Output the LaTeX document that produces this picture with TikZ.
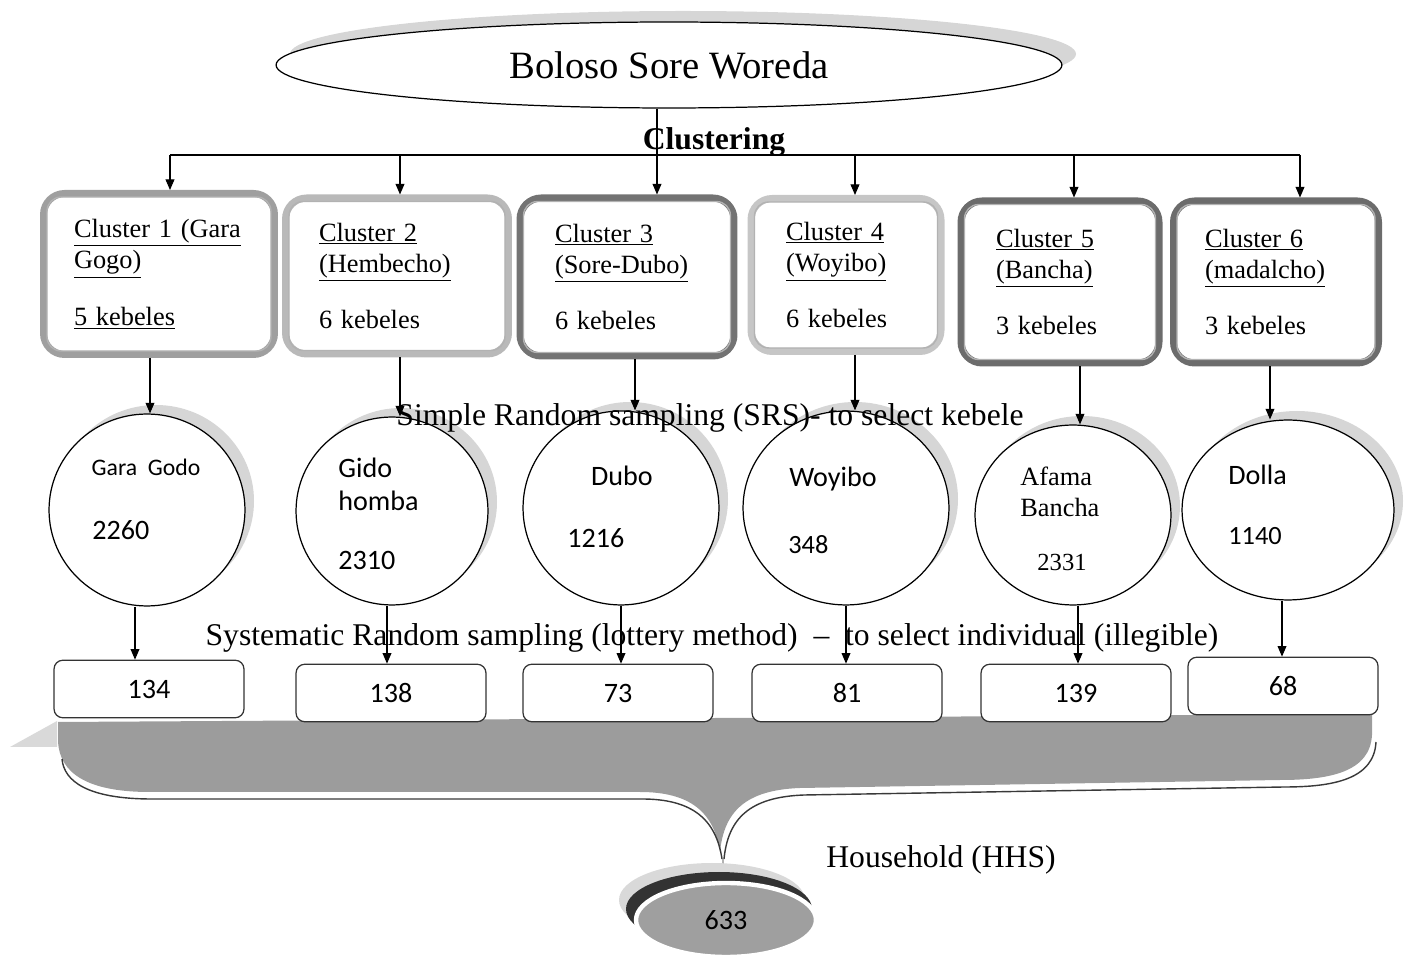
\documentclass[tikz,border=0pt]{standalone}
\usepackage{fontspec}
\setmainfont{Liberation Serif}
\newfontfamily\calib{Carlito}
\usetikzlibrary{shapes.geometric,arrows.meta,positioning}

\begin{document}
\begin{tikzpicture}[x=0.02cm, y=-0.02cm,
  arr/.style={-{Triangle[length=6pt,width=5pt]}, line width=0.6pt},
  cluster/.style={draw=#1, line width=4pt, rounded corners=12pt, fill=white,
    align=left, inner sep=0pt, font=\fontsize{15}{18}\selectfont},
  innerframe/.style={draw=gray!60, line width=0.8pt, rounded corners=8pt},
  kebele/.style={ellipse, draw, line width=0.7pt, fill=white, inner sep=0pt},
  kshadow/.style={fill=gray!32},
  ktxt/.style={inner sep=0pt, font=\calib\fontsize{16}{19}\selectfont},
  hh/.style={draw=black!80, line width=0.7pt, rounded corners=5pt, fill=white,
    minimum width=3.8cm, minimum height=1.15cm, font=\calib\fontsize{16}{19}\selectfont},
  note/.style={inner sep=0pt, font=\fontsize{18}{21}\selectfont}
]
\useasboundingbox (0,0) rectangle (1414,955);

% Woreda at the top
\fill[kshadow] (683,54) ellipse [x radius=393, y radius=43];
\node[ellipse, draw, line width=0.7pt, fill=white, minimum width=15.72cm, minimum height=1.72cm,
  font=\fontsize{22}{26}\selectfont] (woreda) at (669,65) {Boloso Sore Woreda};

\node[note, font=\bfseries\fontsize{18}{21}\selectfont] (clus) at (714,142) {Clustering};

% clusters
\node[cluster=gray!75, minimum width=4.62cm, minimum height=3.22cm, text width=3.4cm] (c1) at (159,274)
  {\underline{Cluster 1 (Gara}\\\underline{Gogo)}\\[14pt]\underline{5 kebeles}};
\node[cluster=gray!55, minimum width=4.46cm, minimum height=3.12cm, text width=3.12cm] (c2) at (397,276)
  {\underline{Cluster 2}\\\underline{(Hembecho)}\\[14pt]6 kebeles};
\node[cluster=gray!90!black, minimum width=4.28cm, minimum height=3.16cm, text width=2.88cm] (c3) at (627,277)
  {\underline{Cluster 3}\\\underline{(Sore-Dubo)}\\[14pt]6 kebeles};
\node[cluster=gray!45, minimum width=3.8cm, minimum height=3.06cm, text width=2.4cm] (c4) at (846,275)
  {\underline{Cluster 4}\\\underline{(Woyibo)}\\[14pt]6 kebeles};
\node[cluster=gray!85!black, minimum width=3.96cm, minimum height=3.24cm, text width=2.56cm] (c5) at (1060,282)
  {\underline{Cluster 5}\\\underline{(Bancha)}\\[14pt]3 kebeles};
\node[cluster=gray!85!black, minimum width=4.1cm, minimum height=3.24cm, text width=2.84cm] (c6) at (1276,282)
  {\underline{Cluster 6}\\\underline{(madalcho)}\\[14pt]3 kebeles};
\foreach \i in {1,...,6}
  \draw[innerframe] ([shift={(4pt,-4pt)}]c\i.north west) rectangle ([shift={(-4pt,4pt)}]c\i.south east);

% branching line
\foreach \x [count=\i] in {170,400,657,855,1074,1300}
  \coordinate (t\i) at (\x,155);
\draw[line width=0.6pt] (t1) -- (t6);
\draw[line width=0.6pt] (woreda.south -| t3) -- (t3);
\foreach \i in {1,...,6}
  \draw[arr] (t\i) -- (t\i |- c\i.north);

% selected kebeles
\foreach \i/\x/\y/\rx/\ry in {1/147/510/98/96, 2/392/511/96/94, 3/621/508/98/97,
    4/846/508/103/97, 5/1073/515/98/90, 6/1288/510/106/90} {
  \fill[kshadow] (\x+9,\y-9) ellipse [x radius=\rx, y radius=\ry];
  \node[kebele, minimum width={0.04cm*\rx}, minimum height={0.04cm*\ry}] (k\i) at (\x,\y) {};
}
\node[note] (srs) at (710,418) {Simple Random sampling (SRS)- to select kebele};

\node[ktxt, font=\calib\fontsize{13.5}{16}\selectfont] (k1a) at (146,467) {Gara\ \ Godo};
\node[ktxt, anchor=west] (k1b) at (92,530) {2260};
\node[ktxt, anchor=west] (k2a) at (338,468) {Gido};
\node[ktxt, anchor=west] (k2b) at (338,501) {homba};
\node[ktxt, anchor=west] (k2c) at (338,560) {2310};
\node[ktxt] (k3a) at (622,476) {Dubo};
\node[ktxt, anchor=west] (k3b) at (567,538) {1216};
\node[ktxt, anchor=west] (k4a) at (789,479) {Woyibo};
\node[ktxt, anchor=west, font=\calib\fontsize{15}{18}\selectfont] (k4b) at (788,545) {348};
\node[note, anchor=west, font=\fontsize{15}{18}\selectfont] (k5a) at (1020,476) {Afama};
\node[note, anchor=west, font=\fontsize{15}{18}\selectfont] (k5b) at (1020,507) {Bancha};
\node[note, font=\fontsize{14}{17}\selectfont] (k5c) at (1062,562) {2331};
\node[ktxt, anchor=west] (k6a) at (1228,475) {Dolla};
\node[ktxt, anchor=west, font=\calib\fontsize{15}{18}\selectfont] (k6b) at (1228,536) {1140};

\node[note] (sys) at (712,638) {Systematic Random sampling (lottery method)\ \ --\ \ to select individual (illegible)};

% brace gathering the samples
\fill[gray!30] (10,747) -- (57,721) -- (57,747) -- cycle;
\fill[gray!78] (58,722) -- (1372,714) -- (1372,735) .. controls (1370,772) and (1330,780) .. (1280,780)
  -- (800,788) .. controls (745,790) and (724,812) .. (720,852)
  .. controls (714,812) and (690,792) .. (640,792) -- (150,792)
  .. controls (85,792) and (60,772) .. (58,742) -- cycle;
\draw[gray!45!black, line width=0.8pt, shift={(2,7)}] (60,752) .. controls (62,774) and (85,792) .. (150,792)
  -- (640,792) .. controls (690,792) and (714,812) .. (720,852);
\draw[gray!45!black, line width=0.8pt, shift={(4,7)}] (720,852) .. controls (724,812) and (745,790) .. (800,788)
  -- (1280,780) .. controls (1330,780) and (1370,772) .. (1372,735);
\draw[gray!60, line width=0.8pt] (723,859) -- (723,870);

% households per kebele
\node[hh] (b1) at (149,689) {134};
\node[hh] (b2) at (391,693) {138};
\node[hh] (b3) at (618,693) {73};
\node[hh] (b4) at (847,693) {81};
\node[hh] (b5) at (1076,693) {139};
\node[hh] (b6) at (1283,686) {68};

% sampling arrows
\foreach \i/\u/\v in {1/150/135, 2/400/387, 3/635/621, 4/855/846, 5/1080/1078, 6/1270/1282} {
  \coordinate (u\i) at (\u,0);
  \coordinate (v\i) at (\v,0);
  \draw[arr] (c\i.south -| u\i) -- (k\i.north -| u\i);
  \draw[arr] (k\i.south -| v\i) -- (b\i.north -| v\i);
}

% total
\fill[gray!30] (712,900) ellipse [x radius=93, y radius=37];
\fill[gray!40!black] (719,909) ellipse [x radius=93, y radius=37];
\node[ellipse, fill=gray!75, draw=white, line width=2.5pt, minimum width=3.6cm, minimum height=1.48cm,
  font=\calib\fontsize{16}{19}\selectfont] (tot) at (726,920) {633};
\node[note] (hhs) at (941,860) {Household (HHS)};

\end{tikzpicture}
\end{document}
